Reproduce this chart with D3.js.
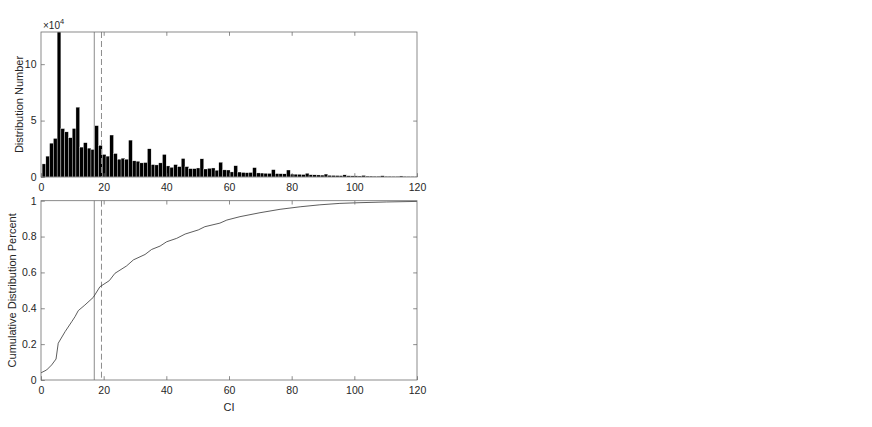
<!DOCTYPE html>
<html>
<head>
<meta charset="utf-8">
<script src="https://cdn.jsdelivr.net/npm/d3@7"></script>
<style>
  html, body { margin: 0; padding: 0; background: #fff; }
  svg { display: block; }
  text { font-family: "Liberation Sans", Arial, Helvetica, sans-serif; fill: #262626; }
</style>
</head>
<body>
<svg id="chart" width="872" height="427"></svg>
<script>
// ---------------- data ----------------
// histogram: bin start, bin width (CI units), counts in units of 1e4
const binStart = 0.35;
const binWidth = 1.2;
const countsE4 = [
  1.16, 1.85, 3.00, 3.42, 12.85, 4.29, 4.00, 3.48, 4.30, 6.19,
  2.65, 3.04, 2.56, 2.44, 4.55, 2.80, 2.00, 1.85, 3.72, 2.08,
  1.58, 1.67, 1.58, 3.27, 1.43, 1.40, 1.25, 1.28, 2.50, 1.10,
  1.07, 1.25, 2.00, 0.98, 0.86, 1.10, 0.92, 1.64, 0.92, 0.74,
  0.74, 0.80, 1.61, 0.71, 0.77, 0.80, 0.60, 1.31, 0.63, 0.62,
  0.45, 1.00, 0.44, 0.40, 0.38, 0.40, 0.83, 0.36, 0.35, 0.33,
  0.32, 0.65, 0.30, 0.29, 0.28, 0.62, 0.26, 0.25, 0.24, 0.22,
  0.33, 0.20, 0.19, 0.18, 0.17, 0.26, 0.15, 0.14, 0.13, 0.12,
  0.19, 0.11, 0.10, 0.10, 0.09, 0.14, 0.08, 0.08, 0.07, 0.07,
  0.11, 0.06, 0.06, 0.05, 0.05, 0.09, 0.05, 0.04, 0.04, 0.04
];
// cumulative distribution curve (CI, fraction)
const cdfX = [0, 1.8, 3.4, 4.8, 5.5, 6.1, 7.7, 9.8, 10.85, 11.9, 14.0, 16.7, 18.8, 21.8, 23.6,
              27.3, 29.5, 33.2, 35.3, 38, 40.1, 43.3, 46, 50.2, 52.3, 57.1, 59.3, 63.5, 69.9,
              76.3, 82.7, 89, 95.4, 101.8, 110.3, 120];
const cdfY = [0.04, 0.056, 0.084, 0.117, 0.205, 0.223, 0.27, 0.325, 0.353, 0.387, 0.418, 0.461, 0.52, 0.554, 0.595,
              0.636, 0.67, 0.70, 0.728, 0.747, 0.771, 0.79, 0.814, 0.837, 0.855, 0.875, 0.892, 0.911, 0.933,
              0.952, 0.966, 0.977, 0.985, 0.989, 0.993, 0.996];
// reference lines (CI)
const solidLineX = 17.0;
const dashedLineX = 19.3;
// ticks
const xTicks = [0, 20, 40, 60, 80, 100, 120];
const histYTicks = [0, 5, 10];
const cdfYTicks = [0, 0.2, 0.4, 0.6, 0.8, 1];
const xDomain = [0, 120];
const histYMax = 12.85;

// ---------------- layout ----------------
const svg = d3.select("#chart");
const L = 41, R = 417;
const top1 = 32, bot1 = 177;
const top2 = 200.7, bot2 = 380;
const tickLen = 3.8;
const axisColor = "#6e6e6e";
const fontSize = 10.5;

const x = d3.scaleLinear().domain(xDomain).range([L, R]);
const y1 = d3.scaleLinear().domain([0, histYMax]).range([bot1, top1]);
const y2 = d3.scaleLinear().domain([0, 1]).range([bot2, top2]);

function styleAxis(g, showLabels) {
  g.select(".domain").remove();
  g.selectAll(".tick line").attr("stroke", axisColor).attr("stroke-width", 0.8);
  g.selectAll(".tick text").attr("font-size", fontSize).attr("fill", "#262626")
    .style("font-family", '"Liberation Sans", Arial, sans-serif');
  if (!showLabels) g.selectAll(".tick text").remove();
}

function drawAxes(yScale, top, bot, yTicks, yFmt) {
  // bottom
  svg.append("g").attr("transform", `translate(0,${bot})`)
    .call(d3.axisBottom(x).tickValues(xTicks).tickSizeInner(-tickLen).tickSizeOuter(0).tickPadding(6.5))
    .call(g => styleAxis(g, true));
  // top
  svg.append("g").attr("transform", `translate(0,${top})`)
    .call(d3.axisTop(x).tickValues(xTicks.slice(1, -1)).tickSizeInner(-tickLen).tickSizeOuter(0))
    .call(g => styleAxis(g, false));
  // left
  svg.append("g").attr("transform", `translate(${L},0)`)
    .call(d3.axisLeft(yScale).tickValues(yTicks).tickFormat(yFmt).tickSizeInner(-tickLen).tickSizeOuter(0).tickPadding(4.5))
    .call(g => styleAxis(g, true));
  // right
  svg.append("g").attr("transform", `translate(${R},0)`)
    .call(d3.axisRight(yScale).tickValues(yTicks.slice(1, -1)).tickSizeInner(-tickLen).tickSizeOuter(0))
    .call(g => styleAxis(g, false));
  // box
  svg.append("rect").attr("x", L).attr("y", top).attr("width", R - L).attr("height", bot - top)
    .attr("fill", "none").attr("stroke", axisColor).attr("stroke-width", 0.8);
}

// ---------------- top: histogram ----------------
svg.append("clipPath").attr("id", "clip1").append("rect")
  .attr("x", L).attr("y", top1).attr("width", R - L).attr("height", bot1 - top1);

const bins = countsE4.map((v, i) => ({ x0: binStart + i * binWidth, x1: binStart + (i + 1) * binWidth, v }));
svg.append("g").attr("clip-path", "url(#clip1)")
  .selectAll("rect").data(bins).join("rect")
  .attr("x", d => x(d.x0))
  .attr("width", d => x(d.x1) - x(d.x0))
  .attr("y", d => y1(d.v))
  .attr("height", d => y1(0) - y1(d.v))
  .attr("fill", "#000")
  .attr("stroke", "#ffffff").attr("stroke-width", 0.35);

function refLines(top, bot) {
  svg.append("line").attr("x1", x(solidLineX)).attr("x2", x(solidLineX))
    .attr("y1", top).attr("y2", bot).attr("stroke", "#8c8c8c").attr("stroke-width", 1);
  svg.append("line").attr("x1", x(dashedLineX)).attr("x2", x(dashedLineX))
    .attr("y1", top).attr("y2", bot).attr("stroke", "#8c8c8c").attr("stroke-width", 1)
    .attr("stroke-dasharray", "6,3");
}
refLines(top1, bot1);
drawAxes(y1, top1, bot1, histYTicks, d3.format("d"));

// exponent label
const expT = svg.append("text").attr("x", L + 2).attr("y", top1 - 3).attr("font-size", 10);
expT.append("tspan").text("\u00d710");
expT.append("tspan").attr("dy", -5).attr("font-size", 7.5).text("4");

svg.append("text")
  .attr("transform", `translate(${L - 18},${(top1 + bot1) / 2}) rotate(-90)`)
  .attr("text-anchor", "middle").attr("font-size", 11)
  .text("Distribution Number");

// ---------------- bottom: cumulative ----------------
refLines(top2, bot2);
const pts = cdfX.map((v, i) => [v, cdfY[i]]);
svg.append("path").datum(pts)
  .attr("d", d3.line().x(d => x(d[0])).y(d => y2(d[1])))
  .attr("fill", "none").attr("stroke", "#333").attr("stroke-width", 0.8);
drawAxes(y2, top2, bot2, cdfYTicks, d => d === 0 || d === 1 ? d3.format("d")(d) : d3.format(".1f")(d));

svg.append("text")
  .attr("transform", `translate(${L - 25},${(top2 + bot2) / 2}) rotate(-90)`)
  .attr("text-anchor", "middle").attr("font-size", 11)
  .text("Cumulative Distribution Percent");

svg.append("text")
  .attr("x", (L + R) / 2).attr("y", 411)
  .attr("text-anchor", "middle").attr("font-size", 11)
  .text("CI");
</script>
</body>
</html>
